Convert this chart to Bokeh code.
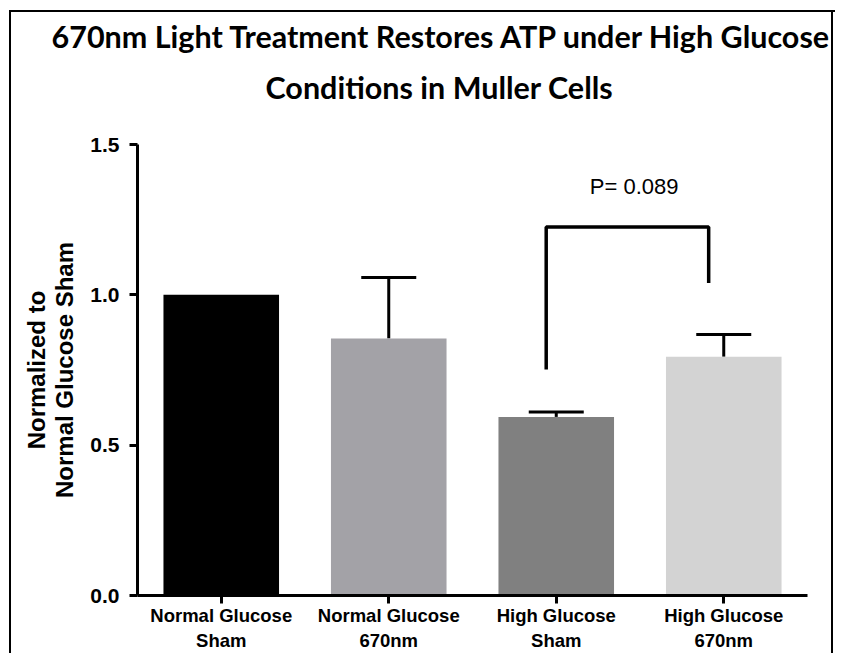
from bokeh.plotting import figure
from bokeh.models import (ColumnDataSource, FactorRange, Range1d, FixedTicker, Whisker,
                          TeeHead, Title, NumeralTickFormatter)
from bokeh.embed import file_html
from bokeh.resources import INLINE
from bokeh.core.properties import value

# ---- data ----
categories = ["Normal Glucose\nSham", "Normal Glucose\n670nm", "High Glucose\nSham", "High Glucose\n670nm"]
means = [1.0, 0.855, 0.594, 0.794]
err_upper = [None, 1.058, 0.610, 0.868]
bar_colors = ["#000000", "#a3a2a7", "#808080", "#d3d3d3"]
y_ticks = [0.0, 0.5, 1.0, 1.5]
bracket_left_bottom = 0.752
bracket_top = 1.226
bracket_right_bottom = 1.039
p_text = "P= 0.089"
p_text_y = 1.36
title_lines = ["670nm Light Treatment Restores ATP under High Glucose", "Conditions in Muller Cells"]

p = figure(width=835, height=653, x_range=FactorRange(*categories, range_padding=0),
           y_range=Range1d(0, 1.5), output_backend="svg", toolbar_location=None,
           min_border_left=137, min_border_right=28, min_border_bottom=40, min_border_top=144)
# thin black frame around the whole picture (left, top, right), drawn behind a transparent canvas border
p.border_fill_alpha = 0
p.background_fill_color = "white"
p.styles = {"background": ("linear-gradient(#000,#000) 9px 10px / 2px 100% no-repeat, "
                           "linear-gradient(#000,#000) 9px 10px / 100% 2px no-repeat, "
                           "linear-gradient(#000,#000) 831px 10px / 2px 100% no-repeat, #fff")}
p.outline_line_color = None
p.xgrid.grid_line_color = None
p.ygrid.grid_line_color = None

src = ColumnDataSource(dict(cat=categories, val=means, color=bar_colors))
p.vbar(x="cat", top="val", width=0.69, bottom=0, fill_color="color", line_color=None, source=src)

ecat = [c for c, e in zip(categories, err_upper) if e is not None]
eval_ = [m for m, e in zip(means, err_upper) if e is not None]
etop = [e for e in err_upper if e is not None]
esrc = ColumnDataSource(dict(cat=ecat, lower=eval_, upper=etop))
w = Whisker(source=esrc, base="cat", lower="lower", upper="upper", dimension="height",
            line_width=3, line_color="black",
            upper_head=TeeHead(size=55, line_width=3, line_color="black"), lower_head=None)
p.add_layout(w)

# significance bracket
bx = [(categories[2], -0.06), (categories[2], -0.06), (categories[3], -0.09), (categories[3], -0.09)]
by = [bracket_left_bottom, bracket_top, bracket_top, bracket_right_bottom]
p.line(x=bx, y=by, line_width=3.5, line_color="black")

p.text(x=[(categories[3], -0.535)], y=[p_text_y], text=[p_text], text_align="center",
       text_baseline="middle", text_font=value("Liberation Sans"), text_font_size="22px",
       text_color="black")

# axes
for ax in (p.xaxis[0], p.yaxis[0]):
    ax.axis_line_width = 3
    ax.axis_line_color = "black"
    ax.major_tick_line_width = 3
    ax.major_tick_line_color = "black"
    ax.major_tick_out = 8
    ax.major_tick_in = 0
    ax.minor_tick_line_color = None
    ax.major_label_text_font = "Liberation Sans"
    ax.major_label_text_font_style = "bold"
    ax.major_label_text_color = "black"

p.yaxis.ticker = FixedTicker(ticks=y_ticks)
p.yaxis.formatter = NumeralTickFormatter(format="0.0")
p.yaxis.major_label_text_font_size = "21px"
p.yaxis.major_label_standoff = 10
p.yaxis.axis_label = "Normalized to\nNormal Glucose Sham"
p.yaxis.axis_label_text_font = "Liberation Sans"
p.yaxis.axis_label_text_font_style = "bold"
p.yaxis.axis_label_text_font_size = "24px"
p.yaxis.axis_label_text_color = "black"
p.yaxis.axis_label_text_line_height = 1.05
p.yaxis.axis_label_standoff = 9

p.xaxis.major_label_text_font_size = "18.5px"
p.xaxis.major_label_standoff = 1
p.xaxis.major_label_orientation = "horizontal"

# spacer between the frame and the two title lines
p.add_layout(Title(text=" ", text_font_size="12px", standoff=17), "above")
p.add_layout(Title(text=title_lines[1], align="left", text_font="Lato", text_color="black",
                   text_font_size="30.5px", text_font_style="bold", offset=128, standoff=13), "above")
p.add_layout(Title(text=title_lines[0], align="left", text_font="Lato", text_color="black",
                   text_font_size="30.5px", text_font_style="bold", offset=-86, standoff=13), "above")

open("out.html", "w").write(file_html(p, INLINE))
